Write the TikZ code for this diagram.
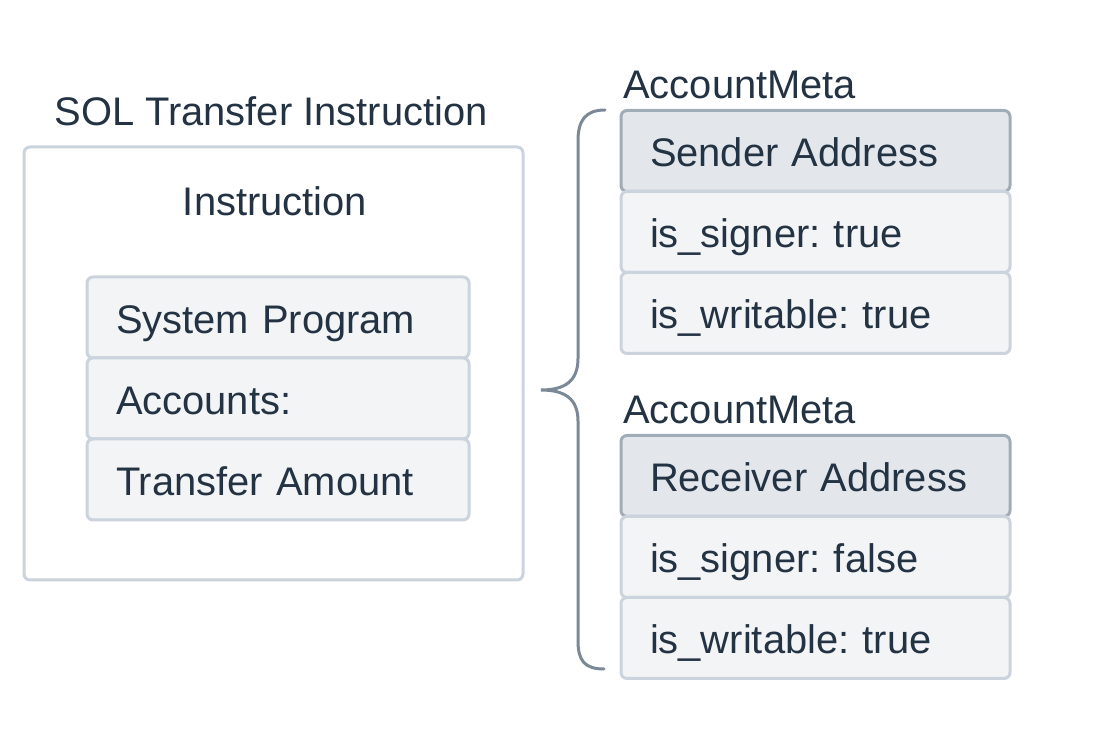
\documentclass[tikz,border=0pt]{standalone}
\usepackage{fontspec}
\setmainfont{Liberation Sans}
\frenchspacing
\usetikzlibrary{positioning}
\definecolor{mtext}{HTML}{243343}
\definecolor{mline}{HTML}{CBD3DD}
\definecolor{mfill}{HTML}{F3F4F6}
\definecolor{mhead}{HTML}{E3E7EC}
\definecolor{mheadline}{HTML}{A1ACB9}
\definecolor{mbrace}{HTML}{7B8896}
\tikzstyle{l1}=[line width=0.06cm]
\tikzstyle{txt}=[text=mtext, font=\fontsize{22.7}{27}\selectfont, inner sep=0pt]
\tikzstyle{frame}=[draw=mline, l1, rounded corners=0.12cm, fill=white]
\tikzstyle{row}=[txt, rectangle, draw=mline, fill=mfill, l1, rounded corners=0.12cm, minimum height=1.62cm, align=left, inner xsep=0.58cm, text height=0.64cm, text depth=0cm, outer sep=0pt]
\tikzstyle{irow}=[row, text width=6.48cm]
\tikzstyle{arow}=[row, text width=6.62cm]
\tikzstyle{ahead}=[arow, fill=mhead, draw=mheadline]
\begin{document}
\begin{tikzpicture}
    \useasboundingbox (0,0) rectangle (22.24,15.12);

    \node[txt] at (5.42,12.9) (title) {SOL Transfer Instruction};
    \node[frame, minimum width=9.98cm, minimum height=8.66cm] at (5.47,7.85) (instr) {};
    \node[txt] at (5.5,11.1) (ilabel) {Instruction};
    \node[irow] at (5.56,8.77) (prog) {System Program};
    \node[irow, below=0pt of prog] (accs) {Accounts:};
    \node[irow, below=0pt of accs] (amount) {Transfer Amount};

    \node[ahead] at (16.31,12.1) (sender) {Sender Address};
    \node[arow, below=0pt of sender] (ssign) {is\_signer: true};
    \node[arow, below=0pt of ssign] (swrite) {is\_writable: true};
    \node[txt, anchor=west] at (12.46,13.42) (meta1) {AccountMeta};

    \node[ahead] at (16.31,5.6) (receiver) {Receiver Address};
    \node[arow, below=0pt of receiver] (rsign) {is\_signer: false};
    \node[arow, below=0pt of rsign] (rwrite) {is\_writable: true};
    \node[txt, anchor=west] at (12.46,6.92) (meta2) {AccountMeta};

    \coordinate (btop) at (12.1,12.92);
    \coordinate (btip) at (10.82,7.32);
    \coordinate (bbot) at (12.08,1.74);
    \draw[l1, draw=mbrace, line cap=round] (btop) .. controls (11.7,12.92) and (11.56,12.7) .. (11.56,12.3)
        -- (11.56,7.95) .. controls (11.56,7.5) and (11.3,7.32) .. (btip)
        .. controls (11.3,7.32) and (11.56,7.14) .. (11.56,6.7)
        -- (11.56,2.3) .. controls (11.56,1.9) and (11.7,1.74) .. (bbot);
\end{tikzpicture}
\end{document}
